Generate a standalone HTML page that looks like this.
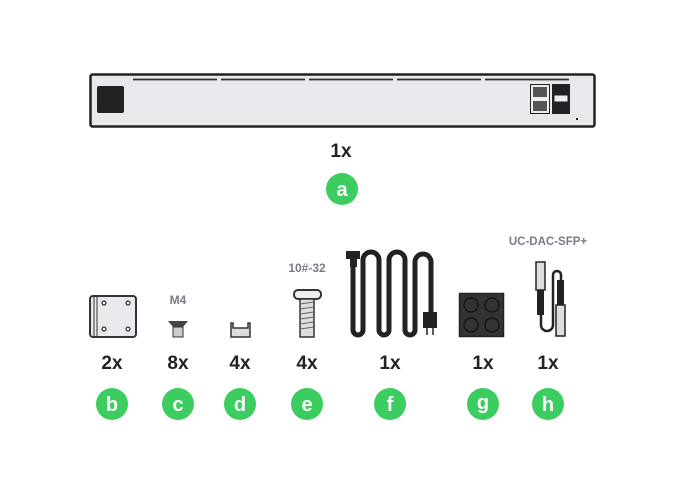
<!DOCTYPE html>
<html><head><style>
html,body{margin:0;padding:0;background:#fff;}
svg{display:block;}
text{font-family:"Liberation Sans",sans-serif;}
</style></head><body>
<svg width="680" height="495" viewBox="0 0 680 495" xmlns="http://www.w3.org/2000/svg">
<!-- device -->
<rect x="90.5" y="74.5" width="504" height="52" rx="2" fill="#e8e8ed" stroke="#222" stroke-width="2.5"/>
<rect x="97" y="86" width="27" height="27" rx="2" fill="#222"/>
<g stroke="#333" stroke-width="1.8">
<line x1="133" y1="79.5" x2="217" y2="79.5"/><line x1="221" y1="79.5" x2="305" y2="79.5"/>
<line x1="309" y1="79.5" x2="393" y2="79.5"/><line x1="397" y1="79.5" x2="481" y2="79.5"/>
<line x1="485" y1="79.5" x2="569" y2="79.5"/>
</g>
<rect x="530.5" y="84.5" width="19" height="29" fill="#eee" stroke="#222"/>
<rect x="533" y="87" width="14" height="10" fill="#555"/>
<rect x="533" y="101" width="14" height="10" fill="#555"/>
<rect x="552" y="84" width="18" height="30" fill="#222"/>
<rect x="554" y="95" width="14" height="7" fill="#eee" stroke="#222"/>
<rect x="576" y="118" width="2" height="2" fill="#222"/>
<!-- a -->
<text x="341" y="157" font-size="19" font-weight="bold" text-anchor="middle" fill="#222">1x</text>
<circle cx="342" cy="189" r="16" fill="#3ccd60"/>
<text x="342" y="196" font-size="20" font-weight="bold" text-anchor="middle" fill="#fff">a</text>
<!-- labels -->
<text x="178" y="304" font-size="12" font-weight="bold" text-anchor="middle" fill="#7a7a88">M4</text>
<text x="307" y="272" font-size="12" font-weight="bold" text-anchor="middle" fill="#7a7a88">10#-32</text>
<text x="548" y="245" font-size="11.5" font-weight="bold" text-anchor="middle" fill="#7a7a88">UC-DAC-SFP+</text>
<!-- b bracket -->
<rect x="90" y="296" width="46" height="41" rx="3" fill="#e8e8ed" stroke="#333" stroke-width="2"/>
<line x1="94" y1="297" x2="94" y2="336" stroke="#333"/><line x1="97" y1="297" x2="97" y2="336" stroke="#333"/>
<g fill="none" stroke="#333" stroke-width="1.2"><circle cx="104" cy="303" r="2"/><circle cx="128" cy="303" r="2"/><circle cx="104" cy="329" r="2"/><circle cx="128" cy="329" r="2"/></g>
<!-- c screw -->
<path d="M168 321 H188 L183 327 H173 Z" fill="#444"/>
<rect x="173" y="327" width="10" height="10" fill="#ccc" stroke="#333"/>
<!-- d clip -->
<path d="M231 323 v14 h19 v-14 h-2 v5 h-15 v-5 z" fill="#ddd" stroke="#333" stroke-width="1.5"/>
<!-- e screw -->
<rect x="294" y="290" width="27" height="9" rx="4" fill="#eee" stroke="#333" stroke-width="2"/>
<rect x="300" y="299" width="14" height="38" fill="#ddd" stroke="#333" stroke-width="1.5"/>
<g stroke="#666"><line x1="300" y1="304" x2="314" y2="302"/><line x1="300" y1="309" x2="314" y2="307"/><line x1="300" y1="314" x2="314" y2="312"/><line x1="300" y1="319" x2="314" y2="317"/><line x1="300" y1="324" x2="314" y2="322"/><line x1="300" y1="329" x2="314" y2="327"/></g>
<!-- f cable -->
<path d="M353 258 V330 a5 5 0 0 0 10 0 V260 a8 8 0 0 1 16 0 V330 a5 5 0 0 0 10 0 V260 a8 8 0 0 1 16 0 V330 a5 5 0 0 0 10 0 V262 a8 8 0 0 1 16 0 V315" fill="none" stroke="#222" stroke-width="5"/>
<rect x="346" y="251" width="14" height="8" fill="#222"/>
<rect x="350" y="257" width="7" height="10" fill="#222"/>
<rect x="423" y="312" width="14" height="16" fill="#222"/>
<line x1="427" y1="328" x2="427" y2="335" stroke="#222" stroke-width="1.5"/><line x1="433" y1="328" x2="433" y2="335" stroke="#222" stroke-width="1.5"/>
<!-- g -->
<rect x="459.5" y="293.5" width="44" height="43" fill="#333" stroke="#222" stroke-width="1.5"/>
<g fill="none" stroke="#111" stroke-width="1.2"><circle cx="471" cy="305" r="7"/><circle cx="492" cy="305" r="7"/><circle cx="471" cy="325" r="7"/><circle cx="492" cy="325" r="7"/></g>
<!-- h -->
<path d="M541 315 V325 a6 6 0 0 0 12 0 V275 a4 4 0 0 1 8 0 V290" fill="none" stroke="#222" stroke-width="2.5"/>
<rect x="536" y="262" width="9" height="28" fill="#ddd" stroke="#222" stroke-width="1.5"/>
<rect x="537" y="290" width="7" height="25" fill="#222"/>
<rect x="557" y="280" width="7" height="25" fill="#222"/>
<rect x="556" y="305" width="9" height="31" fill="#ddd" stroke="#222" stroke-width="1.5"/>
<!-- counts -->
<g font-size="19" font-weight="bold" text-anchor="middle" fill="#222">
<text x="112" y="369">2x</text><text x="178" y="369">8x</text><text x="240" y="369">4x</text><text x="307" y="369">4x</text>
<text x="390" y="369">1x</text><text x="483" y="369">1x</text><text x="548" y="369">1x</text>
</g>
<g fill="#3ccd60">
<circle cx="112" cy="404" r="16"/><circle cx="178" cy="404" r="16"/><circle cx="240" cy="404" r="16"/><circle cx="307" cy="404" r="16"/>
<circle cx="390" cy="404" r="16"/><circle cx="483" cy="404" r="16"/><circle cx="548" cy="404" r="16"/>
</g>
<g font-size="20" font-weight="bold" text-anchor="middle" fill="#fff">
<text x="112" y="411">b</text><text x="178" y="411">c</text><text x="240" y="411">d</text><text x="307" y="411">e</text>
<text x="390" y="411">f</text><text x="483" y="409">g</text><text x="548" y="411">h</text>
</g>
</svg>
</body></html>
